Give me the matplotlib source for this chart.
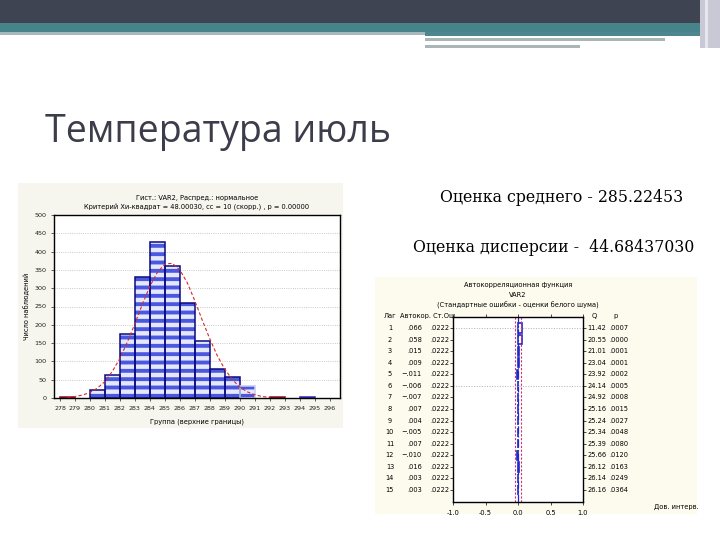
import numpy as np
import matplotlib
matplotlib.use("Agg")
import matplotlib.pyplot as plt
from matplotlib.patches import Rectangle

# ---- data ----
bin_lo = [278, 280, 281, 282, 283, 284, 285, 286, 287, 288, 289, 290, 292, 294]
counts = [2, 22, 64, 175, 330, 425, 361, 259, 157, 79, 57, 32, 4, 4]
edge_cols = ['#8a1020', '#0a0a80', '#0a0a80', '#0a0a80', '#0a0a80', '#0a0a80', '#0a0a80',
             '#0a0a80', '#0a0a80', '#0a0a80', '#0a0a80', '#c8ccf0', '#8a1020', '#2a2ab0']
xticks = list(range(278, 297))
curve_x = [278.5, 279, 279.5, 280, 280.5, 281, 281.5, 282, 282.5, 283, 283.5, 284, 284.5, 285,
           285.5, 286, 286.5, 287, 287.5, 288, 288.5, 289, 289.5, 290, 290.5, 291, 291.5, 292]
curve_y = [1, 4, 8, 15, 27, 45, 73, 108, 153, 203, 256, 305, 343, 366,
           368, 350, 315, 266, 213, 162, 116, 79, 51, 30, 17, 9, 4, 2]

lags = list(range(1, 16))
acf = [.066, .058, .015, .009, -.011, -.006, -.007, .007, .004, -.005, .007, -.010, .016, .003, .003]
se = [.0222] * 15
q_vals = [11.42, 20.55, 21.01, 23.04, 23.92, 24.14, 24.92, 25.16, 25.24, 25.34, 25.39, 25.66, 26.12, 26.14, 26.16]
p_vals = [.0007, .0000, .0001, .0001, .0002, .0005, .0008, .0015, .0027, .0048, .0080, .0120, .0163, .0249, .0364]

W, H = 720, 540
fig = plt.figure(figsize=(7.2, 5.4), dpi=100)
fig.patch.set_facecolor('white')

def box(x0, y0, x1, y1):
    return [x0 / W, 1 - y1 / H, (x1 - x0) / W, (y1 - y0) / H]

bg = fig.add_axes([0, 0, 1, 1], zorder=0)
bg.set_xlim(0, W); bg.set_ylim(H, 0); bg.axis('off')

def rect(x0, y0, x1, y1, c):
    bg.add_patch(Rectangle((x0, y0), x1 - x0, y1 - y0, color=c, lw=0))

# slide header bands
rect(0, 0, 720, 23, '#3f4453')
rect(0, 23, 720, 32, '#47838b')
rect(0, 32, 425, 35, '#a6b8bc')
rect(425, 32, 700, 36, '#4d868e')
rect(425, 38, 665, 41, '#a9b6b6')
rect(425, 45, 580, 48, '#aab5b5')
rect(700, 0, 720, 48, '#c9c9d6')
rect(705, 0, 708, 48, '#e6e6ee')

bg.text(45, 142, "Температура июль", fontsize=27, color='#3c3c4a', family='Open Sans', va='baseline')
bg.text(440, 197, "Оценка среднего - 285.22453", fontsize=11.3, family='DejaVu Serif', va='center')
bg.text(413, 247, "Оценка дисперсии -  44.68437030", fontsize=11.3, family='DejaVu Serif', va='center')

# panel backgrounds
rect(18, 183, 343, 428, '#f6f5ee')
rect(375, 277, 697, 514, '#fdfbee')

# ---------------- histogram ----------------
plt.rcParams['hatch.linewidth'] = 2.8
ax = fig.add_axes(box(54, 215, 340, 398), zorder=2)
ax.bar(bin_lo, counts, width=1, align='edge', color='#e4e8fa', hatch='--', edgecolor='#4a58e0', lw=0)
ax.bar(bin_lo, counts, width=1, align='edge', fill=False, edgecolor=edge_cols, lw=1.1)
ax.plot(curve_x, curve_y, color='#d42a2a', lw=0.8, ls=(0, (3, 2)))
ax.set_xlim(277.6, 296.7)
ax.set_ylim(0, 500)
ax.set_yticks(range(0, 501, 50))
ax.set_xticks(xticks)
ax.set_xticks(range(279, 297, 2), minor=True)
ax.grid(True, which='minor', axis='x', ls=':', color='#b8b8b8', lw=0.6)
ax.grid(True, which='major', axis='y', ls=':', color='#b8b8b8', lw=0.6)
ax.set_axisbelow(True)
ax.tick_params(labelsize=4.6, length=2, width=0.5, colors='#222222', which='major')
ax.tick_params(which='minor', length=0)
for s in ax.spines.values():
    s.set_linewidth(1.0)
ax.set_ylabel("Число наблюдений", fontsize=4.8, labelpad=3)
ax.set_xlabel("Группа (верхние границы)", fontsize=4.8, labelpad=6)
ax.set_title("Гист.: VAR2, Распред.: нормальное\n"
             "Критерий Хи-квадрат = 48.00030, сс = 10 (скорр.) , p = 0.00000",
             fontsize=4.8, pad=4, linespacing=1.6)

# ---------------- autocorrelation ----------------
ac = fig.add_axes(box(453, 317, 583, 502), zorder=2)
ac.set_facecolor('white')
ac.barh(lags, acf, height=0.8, left=0, color='white', edgecolor='#1c2bc8', lw=1.2)
ac.axvline(-2 * se[0], color='#d0307a', ls=(0, (2, 1.5)), lw=0.8)
ac.axvline(2 * se[0], color='#d0307a', ls=(0, (2, 1.5)), lw=0.8)
ac.axvline(0.005, color='#1c2bc8', ls=(0, (6, 2, 1, 2)), lw=0.9)
for r in (1, 6):
    ac.axhline(r, color='#b0b0b0', ls=':', lw=0.7)
ac.set_xlim(-1, 1)
ac.set_ylim(16.03, 0.05)
ac.set_xticks([-1, -0.5, 0, 0.5, 1])
ac.set_xticklabels(["-1.0", "-0.5", "0.0", "0.5", "1.0"])
ac.set_yticks(lags)
ac.set_yticklabels([])
ac.tick_params(axis='x', labelsize=4.8, length=2, width=0.5, top=True)
ac.tick_params(axis='y', length=2, width=0.5, right=True)
for s in ac.spines.values():
    s.set_linewidth(1.0)

tr = ac.get_yaxis_transform()
fs = 4.8
ac.text(-0.485, -0.05, "Лаг", transform=tr, fontsize=fs, ha='center', va='center')
ac.text(-0.19, -0.05, "Автокор. Ст.Ош.", transform=tr, fontsize=fs, ha='center', va='center')
ac.text(1.09, -0.05, "Q", transform=tr, fontsize=fs, ha='center', va='center')
ac.text(1.25, -0.05, "p", transform=tr, fontsize=fs, ha='center', va='center')

def fmt(v, n):
    s = f"{v:.{n}f}"
    return s.replace("0.", ".").replace("-", "\u2212")

for lag, r, e, q, p in zip(lags, acf, se, q_vals, p_vals):
    ac.text(-0.485, lag, str(lag), transform=tr, fontsize=fs, ha='center', va='center')
    ac.text(-0.24, lag, fmt(r, 3), transform=tr, fontsize=fs, ha='right', va='center')
    ac.text(-0.03, lag, fmt(e, 4), transform=tr, fontsize=fs, ha='right', va='center')
    ac.text(1.035, lag, f"{q:.2f}", transform=tr, fontsize=fs, ha='left', va='center')
    ac.text(1.35, lag, fmt(p, 4), transform=tr, fontsize=fs, ha='right', va='center')

bg.text(518, 285, "Автокорреляционная функция", fontsize=fs, ha='center', va='center')
bg.text(518, 295, "VAR2", fontsize=fs, ha='center', va='center')
bg.text(518, 305, "(Стандартные ошибки - оценки белого шума)", fontsize=fs, ha='center', va='center')
bg.text(676, 507, "Дов. интерв.", fontsize=fs, ha='center', va='center')

fig.savefig("out.png", dpi=100)
